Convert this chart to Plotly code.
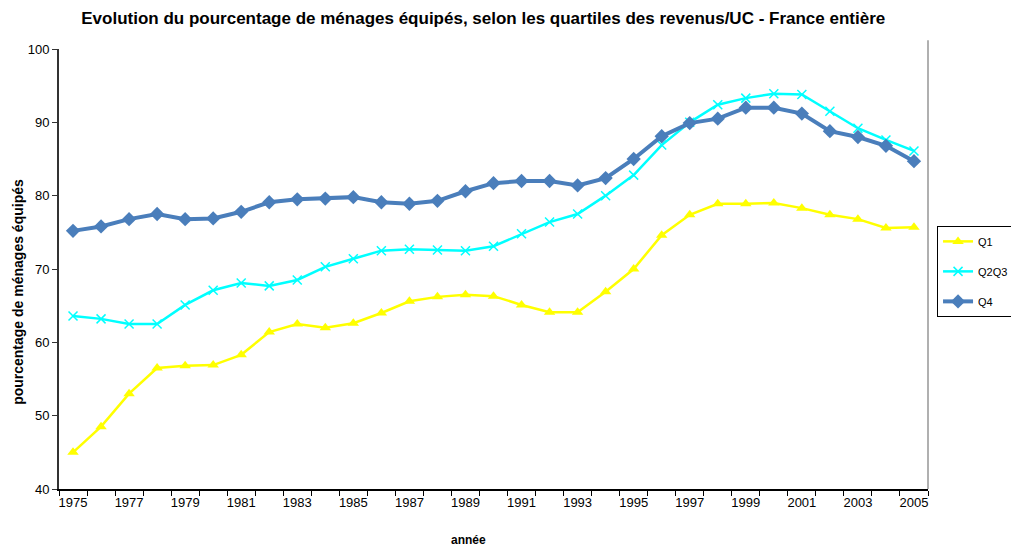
import plotly.graph_objects as go

# années
years = list(range(1975, 2006))

# % de ménages équipés par quartile de revenu/UC
q1 = [45.0, 48.5, 53.0, 56.5, 56.8, 56.9, 58.3, 61.4, 62.5, 62.0, 62.6,
      64.0, 65.6, 66.2, 66.5, 66.3, 65.1, 64.1, 64.1, 66.9, 70.0,
      74.6, 77.4, 78.9, 78.9, 79.0, 78.3, 77.4, 76.8, 75.6, 75.7]
q2q3 = [63.6, 63.2, 62.5, 62.5, 65.1, 67.1, 68.1, 67.7, 68.5, 70.3, 71.4,
        72.5, 72.7, 72.6, 72.5, 73.1, 74.8, 76.4, 77.5, 80.0, 82.8,
        86.9, 90.0, 92.4, 93.3, 93.9, 93.8, 91.5, 89.2, 87.6, 86.1]
q4 = [75.2, 75.8, 76.8, 77.5, 76.8, 76.9, 77.8, 79.1, 79.5, 79.6, 79.8,
      79.1, 78.9, 79.3, 80.6, 81.7, 82.0, 82.0, 81.4, 82.4, 85.0,
      88.1, 89.9, 90.5, 92.0, 92.0, 91.2, 88.8, 88.0, 86.8, 84.7]

series_names = ["Q1", "Q2Q3", "Q4"]

fig = go.Figure()

fig.add_trace(go.Scatter(
    x=years, y=q1, name=series_names[0], mode="lines+markers", legendgroup="a",
    line=dict(color="#FFFF00", width=2.5),
    marker=dict(symbol="triangle-up", size=10, color="#FFFF00"),
))
fig.add_trace(go.Scatter(
    x=years, y=q2q3, name=series_names[1], mode="lines+markers", legendgroup="b",
    line=dict(color="#00FFFF", width=2.5),
    marker=dict(symbol="x-thin", size=9, color="#00FFFF",
                line=dict(color="#00FFFF", width=1.5)),
))
fig.add_trace(go.Scatter(
    x=years, y=q4, name=series_names[2], mode="lines+markers", legendgroup="c",
    line=dict(color="#4A7EBB", width=4),
    marker=dict(symbol="diamond", size=11, color="#4A7EBB"),
))

font = "Liberation Sans, Arial, sans-serif"

fig.update_layout(
    width=1011, height=547,
    paper_bgcolor="white", plot_bgcolor="white",
    margin=dict(l=59, r=83, t=49, b=58, autoexpand=False),
    font=dict(family=font, size=12, color="black"),
    title=dict(
        text="<b>Evolution du pourcentage de ménages équipés, selon les quartiles des revenus/UC - France entière</b>",
        x=0.478, xanchor="center", y=0.967, yanchor="middle",
        font=dict(size=17, family=font),
    ),
    showlegend=True,
    legend=dict(
        x=1.0104, xanchor="left", y=0.598, yanchor="top",
        bordercolor="black", borderwidth=1, bgcolor="white",
        font=dict(size=11), traceorder="grouped", tracegroupgap=11,
    ),
)

fig.update_xaxes(
    range=[1974.5, 2005.5], tick0=1975, dtick=2, ticks="",
    showgrid=False, zeroline=False,
    showline=True, linecolor="black", linewidth=2,
    tickfont=dict(size=13),
    minor=dict(tick0=1974.5, dtick=1, ticks="outside", ticklen=5,
               tickcolor="black", showgrid=False),
)
fig.update_yaxes(
    range=[40, 100], dtick=10, ticks="outside", ticklen=5, tickcolor="#333",
    showgrid=False, zeroline=False,
    showline=True, linecolor="#333", linewidth=2,
    tickfont=dict(size=13),
)

# titres des axes (placés comme dans l'original)
fig.add_annotation(text="<b>année</b>", xref="paper", yref="paper",
                   x=0.4707, y=-0.116, xanchor="center", yanchor="middle",
                   showarrow=False, font=dict(size=12))
fig.add_annotation(text="<b>pourcentage de ménages équipés</b>", xref="paper", yref="paper",
                   x=-0.0472, y=0.448, xanchor="center", yanchor="middle",
                   textangle=-90, showarrow=False, font=dict(size=14))

# bordure droite grise de la zone de tracé
fig.add_shape(type="line", xref="paper", yref="paper", x0=1, x1=1, y0=0, y1=1.02,
              line=dict(color="#B0B0B0", width=2))

fig.write_html("out.html", config={"displayModeBar": False},
               post_script="document.body.style.margin='0';")
